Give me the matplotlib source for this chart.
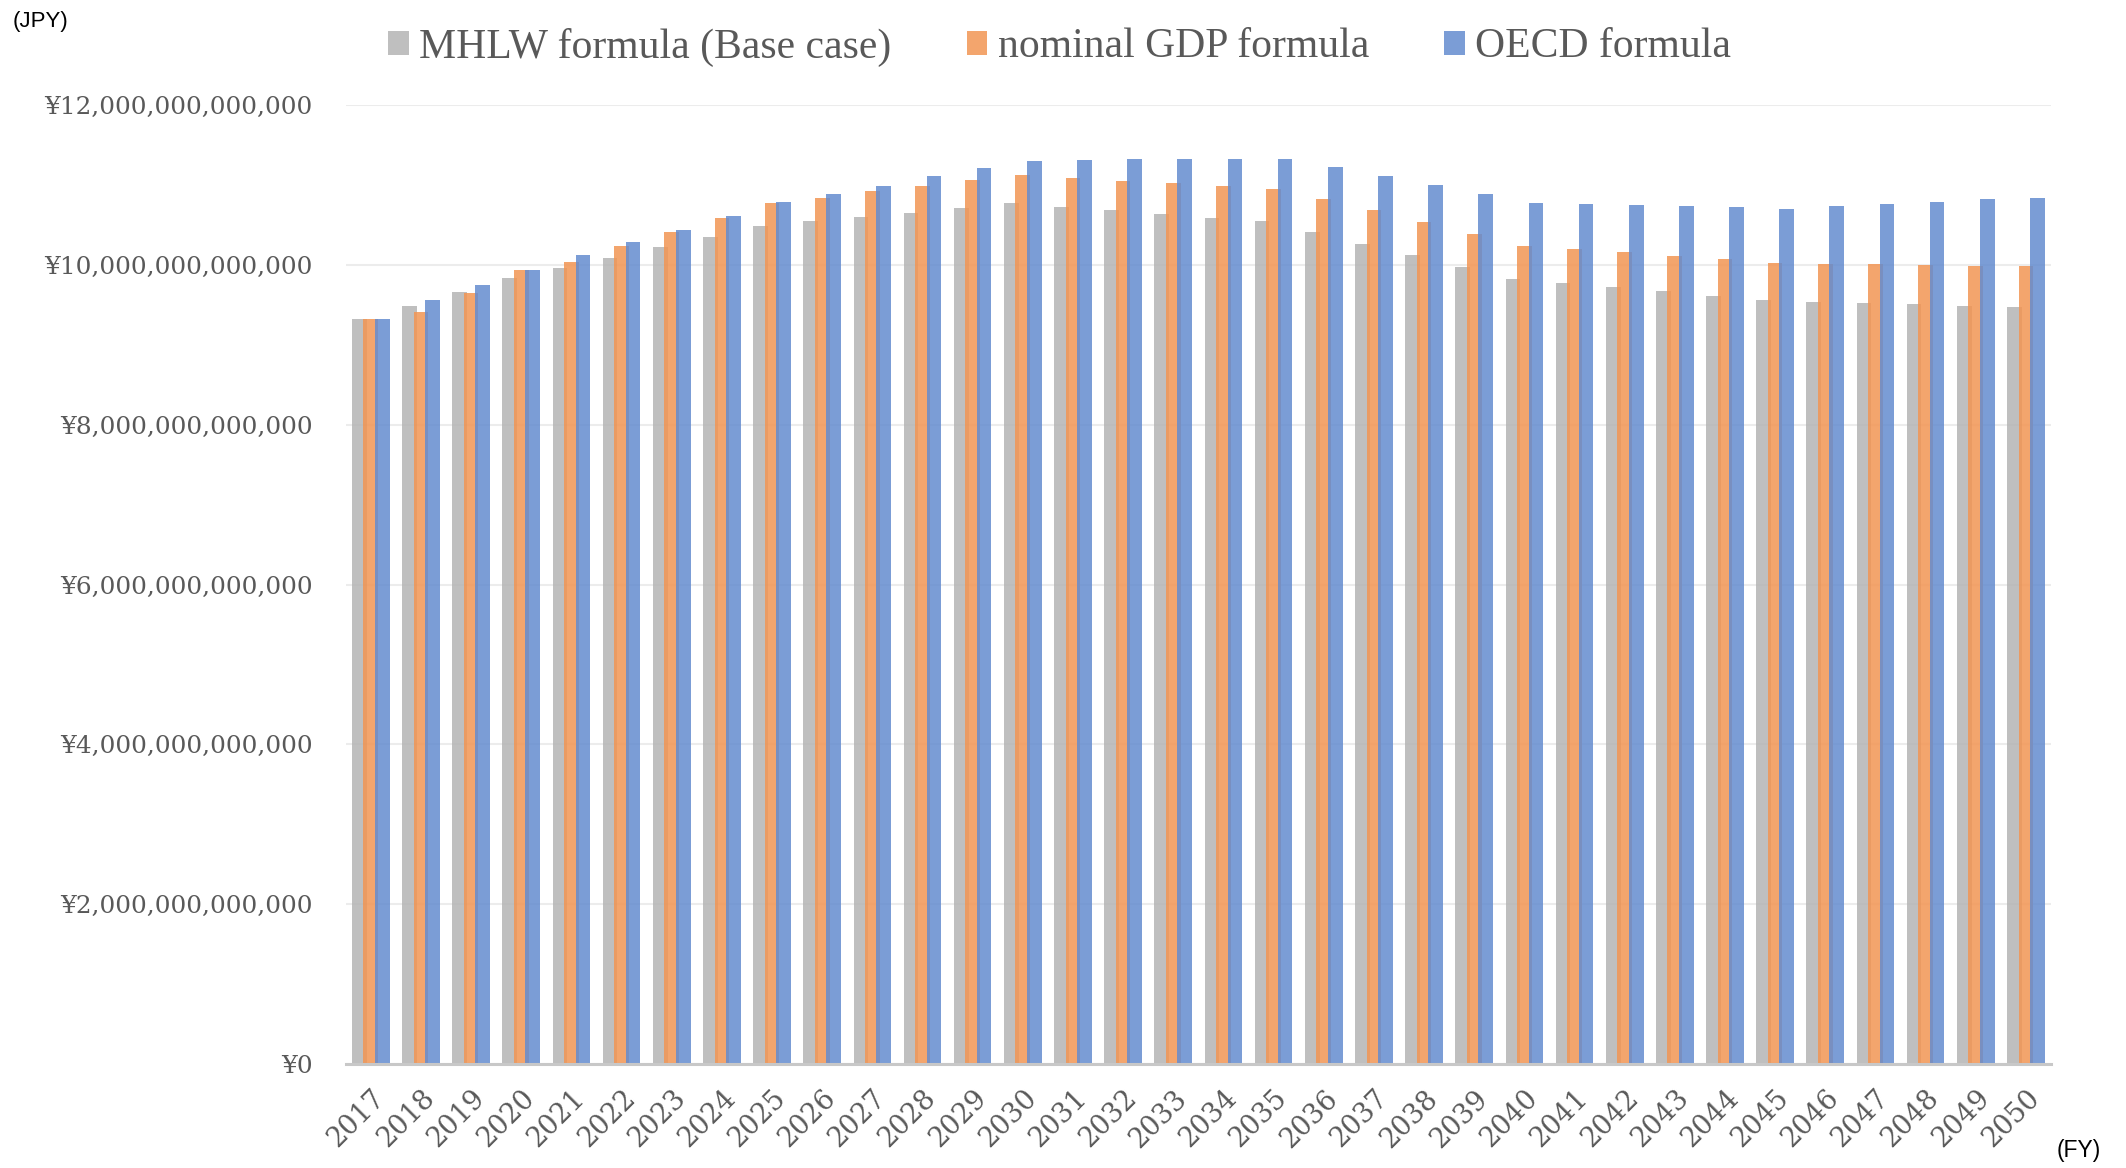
import matplotlib
matplotlib.use("Agg")
import matplotlib.pyplot as plt
import numpy as np
from matplotlib.ticker import FuncFormatter, MultipleLocator

# fiscal years
years = list(range(2017, 2051))

# values in trillion JPY
mhlw = [9.32, 9.49, 9.66, 9.83, 9.96, 10.09, 10.22, 10.35, 10.49, 10.55,
        10.60, 10.65, 10.71, 10.77, 10.72, 10.69, 10.64, 10.59, 10.55, 10.41,
        10.26, 10.12, 9.97, 9.82, 9.77, 9.72, 9.67, 9.61, 9.56, 9.54,
        9.52, 9.51, 9.49, 9.47]
gdp = [9.32, 9.41, 9.65, 9.93, 10.03, 10.23, 10.41, 10.59, 10.77, 10.84,
       10.92, 10.99, 11.06, 11.12, 11.09, 11.05, 11.02, 10.99, 10.95, 10.82,
       10.68, 10.54, 10.39, 10.24, 10.20, 10.16, 10.11, 10.07, 10.02, 10.01,
       10.01, 10.00, 9.99, 9.98]
oecd = [9.32, 9.56, 9.75, 9.94, 10.12, 10.28, 10.44, 10.61, 10.79, 10.89,
        10.99, 11.11, 11.21, 11.30, 11.31, 11.32, 11.32, 11.32, 11.32, 11.22,
        11.11, 11.00, 10.89, 10.77, 10.76, 10.75, 10.74, 10.72, 10.70, 10.73,
        10.76, 10.79, 10.82, 10.84]

labels = ["MHLW formula (Base case)", "nominal GDP formula", "OECD formula"]

W, H = 2126, 1168
fig = plt.figure(figsize=(W / 100, H / 100), dpi=100)
ax = fig.add_axes([345.7 / W, 1 - 1064 / H, (2051 - 345.7) / W, (1064 - 105) / H])

x = np.arange(len(years))
w = 0.293
off = 0.229
a = 0.85
ax.bar(x - off, np.array(mhlw) * 1e12, width=w, color="#b4b4b4", alpha=a, label=labels[0])
ax.bar(x, np.array(gdp) * 1e12, width=w, color="#f29553", alpha=a, label=labels[1])
ax.bar(x + off, np.array(oecd) * 1e12, width=w, color="#648ccf", alpha=a, label=labels[2])

ax.set_xlim(-0.5, len(years) - 0.5)
ax.set_ylim(0, 12e12)
ax.yaxis.set_major_locator(MultipleLocator(2e12))
ax.yaxis.set_major_formatter(FuncFormatter(lambda v, p: "¥{:,.0f}".format(v)))
ax.grid(axis="y", color="#ececec", lw=1.5)
ax.set_axisbelow(True)

for s in ["top", "right", "left"]:
    ax.spines[s].set_visible(False)
ax.spines["bottom"].set_color("#c8c8c8")
ax.spines["bottom"].set_linewidth(2.2)

ax.set_xticks(x)
ax.set_xticklabels([str(y) for y in years], rotation=45, ha="right", va="top",
                   rotation_mode="anchor", family="DejaVu Serif", fontsize=19.5, color="#595959")
ax.tick_params(axis="x", length=0, pad=15)
ax.tick_params(axis="y", length=0, pad=24)
for t in ax.get_yticklabels():
    t.set_family("DejaVu Serif")
    t.set_fontsize(17.8)
    t.set_color("#595959")

fig.legend(loc="center", bbox_to_anchor=(0.4985, 1 - 47 / H), ncol=3, frameon=False,
           prop={"family": "Liberation Serif", "size": 30}, labelcolor="#595959",
           handlelength=0.5, handleheight=0.5, handletextpad=0.25, columnspacing=1.8,
           borderpad=0, borderaxespad=0)

fig.text(13 / W, 1 - 11 / H, "(JPY)", ha="left", va="top", family="Liberation Sans", fontsize=16)
fig.text(2057 / W, 1 - 1162 / H, "(FY)", ha="left", va="bottom", family="Liberation Sans", fontsize=16.5)

fig.savefig("out.png", dpi=100)
